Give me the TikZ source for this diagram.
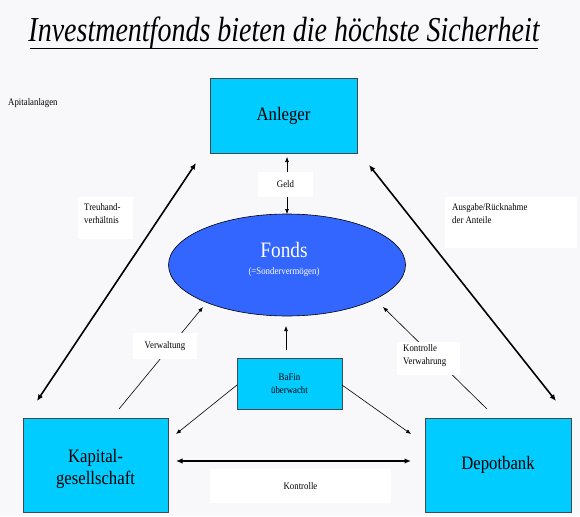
\documentclass[tikz,border=0pt]{standalone}
\usepackage{fontspec}
\setmainfont{Liberation Serif}[FakeStretch=0.88]
\newfontfamily\titlefont{Liberation Serif}[FakeStretch=0.80]
\usetikzlibrary{arrows.meta,shapes.geometric}
\definecolor{bg}{HTML}{F8F8FB}
\definecolor{boxcyan}{HTML}{00CCFF}
\definecolor{fondsblue}{HTML}{3366FF}
\definecolor{edgegray}{HTML}{404850}
\begin{document}
\begin{tikzpicture}[x=1pt,y=-1pt,
  bigbox/.style={draw=edgegray, line width=0.8pt, fill=boxcyan, inner sep=0pt, align=center,
    font=\fontsize{19}{22}\selectfont},
  bigtext/.style={inner sep=0pt, align=center, font=\fontsize{19}{22}\selectfont},
  smallbox/.style={draw=edgegray, line width=0.8pt, fill=boxcyan, inner sep=0pt, align=center,
    font=\fontsize{10}{12.5}\selectfont},
  lbl/.style={fill=white, inner sep=0pt, font=\fontsize{10}{13}\selectfont},
  lbltext/.style={anchor=north west, inner sep=0pt, align=left, font=\fontsize{10}{13}\selectfont},
  thickarrow/.style={line width=1.6pt, {Latex[length=6.5pt,width=5.5pt]}-{Latex[length=6.5pt,width=5.5pt]}},
  thinarrow/.style={line width=0.6pt, -{Latex[length=5pt,width=4pt]}}]
\useasboundingbox (0,0) rectangle (580,516);
\fill[bg] (0,0) rectangle (580,516);

% title
\node[anchor=base, inner sep=0pt, font=\titlefont\itshape\fontsize{35}{40}\selectfont] (title) at (284,42) {Investmentfonds bieten die höchste Sicherheit};
\draw[line width=1.8pt] (30,48.5) -- (538,48.5);
\node[anchor=base west, inner sep=0pt, font=\fontsize{10}{12}\selectfont] (apital) at (8,106) {Apitalanlagen};

% main nodes
\node[bigbox, minimum width=147pt, minimum height=75pt] (anleger) at (283.5,115.5) {Anleger};
\node[draw=black, line width=0.6pt, fill=fondsblue, ellipse, minimum width=237pt, minimum height=102pt, inner sep=0pt] (fonds) at (287,265) {};
\node[anchor=base, inner sep=0pt, text=white, font=\fontsize{22}{24}\selectfont] (fondst) at (284,257) {Fonds};
\node[anchor=base, inner sep=0pt, text=white, font=\fontsize{10}{12}\selectfont] (sonder) at (284,274) {(=Sondervermögen)};
\node[bigbox, minimum width=145pt, minimum height=94pt] (kap) at (95.5,465) {};
\node[bigtext] (kapt) at (95.5,469) {Kapital-\\gesellschaft};
\node[bigbox, minimum width=146pt, minimum height=94pt] (depot) at (498,465) {Depotbank};
\node[smallbox, minimum width=105pt, minimum height=51pt] (bafin) at (289.5,383.5) {BaFin\\überwacht};

% coordinates
\coordinate (geldtop) at (287,157);
\coordinate (geldbot) at (287,214);
\coordinate (tlA) at (196,163);
\coordinate (tlB) at (37,401);
\coordinate (trA) at (369,165);
\coordinate (trB) at (556,401);
\coordinate (vwS) at (119,409);
\coordinate (vwE) at (203,307);
\coordinate (kvS) at (487,409);
\coordinate (kvE) at (383,307);
\coordinate (bfS) at (286,350);
\coordinate (bfE) at (286,326);
\coordinate (bkS) at (237,385);
\coordinate (bkE) at (176,434);
\coordinate (bdS) at (342,385);
\coordinate (bdE) at (411,434);
\coordinate (koL) at (176,461);
\coordinate (koR) at (411,461);

% connectors
\draw[thinarrow, {Latex[length=5pt,width=4pt]}-{Latex[length=5pt,width=4pt]}] (geldtop) -- (geldbot);
\draw[thickarrow] (tlB) -- (tlA);
\draw[thickarrow] (trA) -- (trB);
\draw[thinarrow] (vwS) -- (vwE);
\draw[thinarrow] (kvS) -- (kvE);
\draw[thinarrow] (bfS) -- (bfE);
\draw[thinarrow] (bkS) -- (bkE);
\draw[thinarrow] (bdS) -- (bdE);
\draw[thickarrow] (koL) -- (koR);

% labels
\node[lbl, minimum width=55pt, minimum height=25pt] (geld) at (285.5,184.5) {Geld};
\node[lbl, minimum width=55pt, minimum height=42pt] (treu) at (105.5,218) {};
\node[lbltext] (treut) at (84,203) {Treuhand-\\verhältnis};
\node[lbl, minimum width=132pt, minimum height=51pt] (ausgabe) at (511,222.5) {};
\node[lbltext] (ausgabet) at (452,203) {Ausgabe/Rücknahme\\der Anteile};
\node[lbl, minimum width=64pt, minimum height=26pt] (verw) at (165,346) {Verwaltung};
\node[lbl, minimum width=63pt, minimum height=33pt] (kontverw) at (428.5,358.5) {};
\node[lbltext] (kontverwt) at (403,344) {Kontrolle\\Verwahrung};
\node[lbl, minimum width=181pt, minimum height=34pt] (kontrolle) at (300.5,486) {Kontrolle};
\end{tikzpicture}
\end{document}
